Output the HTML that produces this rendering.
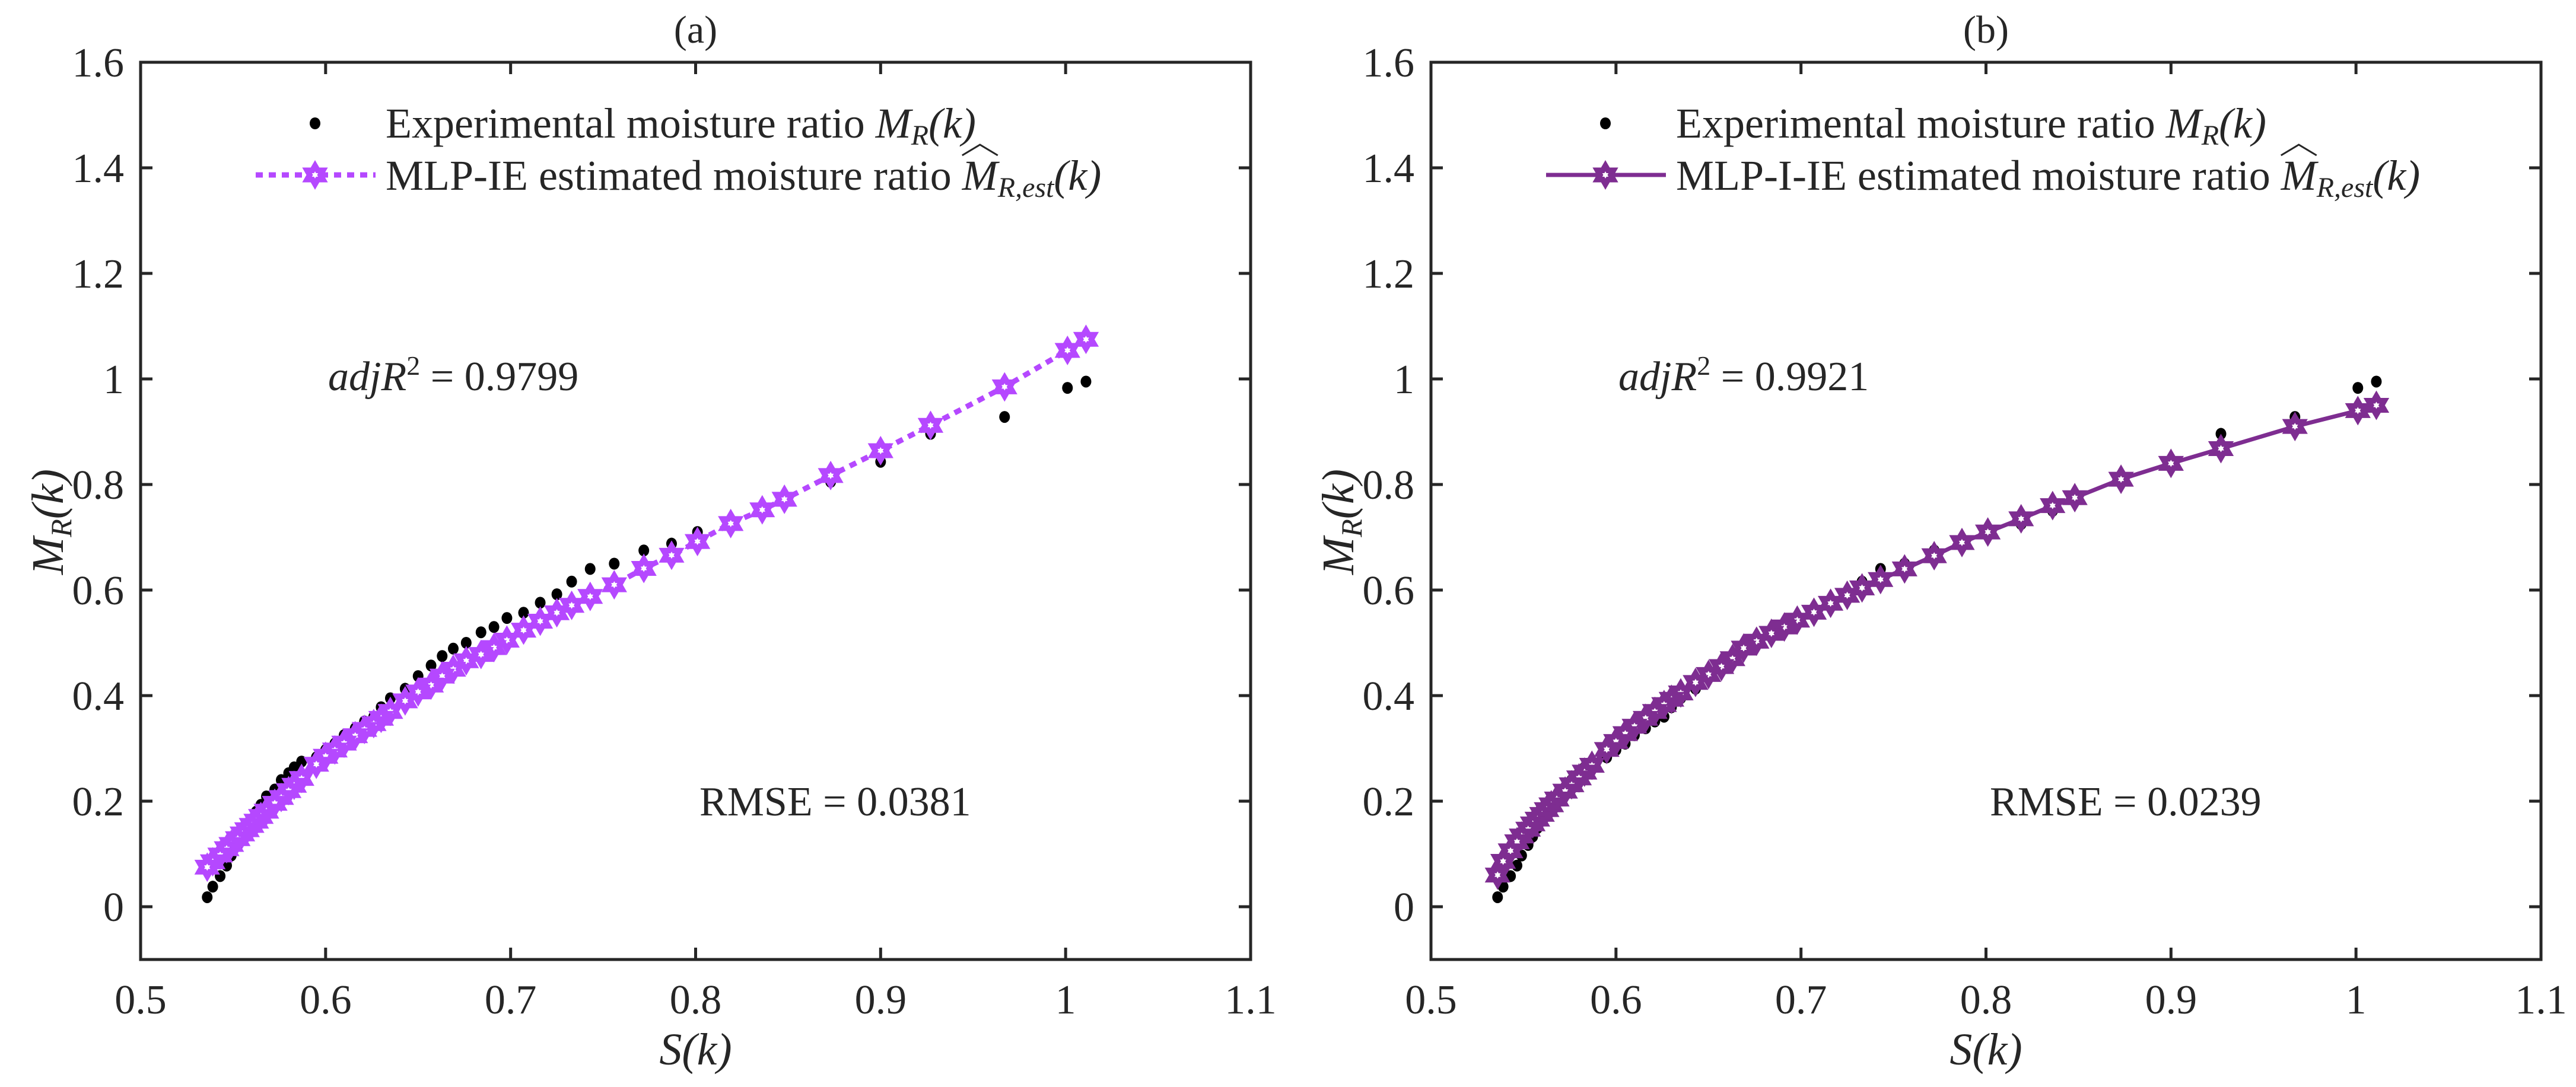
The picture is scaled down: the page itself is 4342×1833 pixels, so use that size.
<!DOCTYPE html>
<html><head><meta charset="utf-8"><style>
html,body{margin:0;padding:0;background:#fff}
svg{display:block}
text{font-family:"Liberation Serif",serif;fill:#262626}
.it{font-style:italic}
</style></head><body>
<svg id="fig" xmlns="http://www.w3.org/2000/svg" width="4342" height="1833" viewBox="0 0 4342 1833">
<rect width="4342" height="1833" fill="#fff"/>
</svg>
<script>
const sVals = [1.011,1.001,0.967,0.927,0.9,0.873,0.848,0.836,0.819,0.801,0.787,0.772,0.756,0.743,0.733,0.725,0.716,0.707,0.698,0.691,0.684,0.676,0.669,0.663,0.657,0.65,0.643,0.635,0.63,0.626,0.621,0.616,0.61,0.605,0.6,0.595,0.587,0.583,0.58,0.576,0.5725,0.568,0.565,0.5625,0.56,0.5575,0.555,0.5525,0.549,0.5465,0.543,0.539,0.536];
const expVals = [0.995,0.983,0.928,0.896,0.843,0.805,0.772,0.75,0.725,0.71,0.688,0.675,0.65,0.64,0.616,0.592,0.576,0.557,0.547,0.53,0.52,0.5,0.489,0.475,0.457,0.437,0.413,0.395,0.378,0.36,0.351,0.338,0.325,0.309,0.297,0.283,0.275,0.264,0.253,0.24,0.222,0.209,0.193,0.18,0.163,0.149,0.133,0.117,0.097,0.078,0.058,0.038,0.018];
const estA = [1.075,1.054,0.985,0.912,0.864,0.817,0.772,0.752,0.726,0.692,0.666,0.641,0.61,0.588,0.571,0.557,0.541,0.524,0.505,0.491,0.478,0.466,0.45,0.437,0.42,0.407,0.39,0.37,0.357,0.347,0.336,0.324,0.31,0.297,0.285,0.27,0.243,0.23,0.22,0.207,0.196,0.181,0.171,0.162,0.154,0.146,0.138,0.129,0.118,0.11,0.098,0.085,0.075];
const estB = [0.95,0.94,0.91,0.868,0.84,0.81,0.775,0.76,0.735,0.71,0.69,0.665,0.64,0.62,0.604,0.59,0.575,0.558,0.543,0.53,0.518,0.503,0.49,0.47,0.455,0.44,0.425,0.405,0.393,0.383,0.37,0.357,0.342,0.328,0.313,0.298,0.268,0.255,0.244,0.231,0.219,0.204,0.193,0.184,0.175,0.166,0.157,0.147,0.134,0.123,0.106,0.086,0.06];
const xTicks = [0.5,0.6,0.7,0.8,0.9,1,1.1];
const yTicks = [0,0.2,0.4,0.6,0.8,1,1.2,1.4,1.6];
const xTickLabels = ["0.5","0.6","0.7","0.8","0.9","1","1.1"];
const yTickLabels = ["0","0.2","0.4","0.6","0.8","1","1.2","1.4","1.6"];

const NS="http://www.w3.org/2000/svg";
const svg=document.getElementById('fig');
function mk(tag,attrs,parent){const e=document.createElementNS(NS,tag);for(const k in attrs)e.setAttribute(k,attrs[k]);(parent||svg).appendChild(e);return e;}
function star(cx,cy,r){let p=[];for(let i=0;i<12;i++){const a=-Math.PI/2+i*Math.PI/6;const rr=i%2?r*0.58:r;p.push((cx+rr*Math.cos(a)).toFixed(1)+','+(cy+rr*Math.sin(a)).toFixed(1));}return p.join(' ');}
function drawStar(g,cx,cy,color){
  const st=mk('polygon',{points:star(cx,cy,21),fill:color,stroke:color,'stroke-width':4,'stroke-linejoin':'miter'},g);
  
  
  mk('polygon',{points:star(cx,cy,6),fill:'#fff'},g);
}

function panel(off,key,est,color,dashed,title,lineLabel,adj,rmse){
  const L=237+off,R=2108+off,T=105,B=1618;
  const X=v=>L+(v-0.5)/0.6*(R-L);
  const Y=v=>B-(v+0.1)/1.7*(B-T);
  const g=mk('g',{});
  
  
  const box=mk('rect',{x:L,y:T,width:R-L,height:B-T,fill:'none',stroke:'#262626','stroke-width':5},g);
  
  
  xTicks.forEach((t,i)=>{const x=X(t);
    mk('line',{x1:x,y1:B,x2:x,y2:B-20,stroke:'#262626','stroke-width':5},g);
    mk('line',{x1:x,y1:T,x2:x,y2:T+20,stroke:'#262626','stroke-width':5},g);
    const tx=mk('text',{x:x,y:1709,'text-anchor':'middle','font-size':70},g);tx.textContent=xTickLabels[i];
    
    
  });
  yTicks.forEach((t,i)=>{const y=Y(t);
    mk('line',{x1:L,y1:y,x2:L+20,y2:y,stroke:'#262626','stroke-width':5},g);
    mk('line',{x1:R,y1:y,x2:R-20,y2:y,stroke:'#262626','stroke-width':5},g);
    const ty=mk('text',{x:L-28,y:y+24,'text-anchor':'end','font-size':70},g);ty.textContent=yTickLabels[i];
    
    
  });
  const tt=mk('text',{x:(L+R)/2,y:72,'text-anchor':'middle','font-size':66},g);tt.textContent=title;
  
  
  const xl=mk('text',{x:(L+R)/2,y:1795,'text-anchor':'middle','font-size':76,class:'it'},g);xl.textContent='S(k)';
  
  
  const yl=mk('text',{x:0,y:0,'text-anchor':'middle','font-size':76,class:'it',transform:`translate(${106+off},880) rotate(-90)`},g);
  yl.innerHTML='M<tspan font-size="50" dy="14">R</tspan><tspan dy="-14">(k)</tspan>';
  
  
  sVals.forEach((s,i)=>{const d=mk('ellipse',{cx:X(s),cy:Y(expVals[i]),rx:9,ry:10,fill:'#000'},g);
    
    });
  const pts=sVals.map((s,i)=>X(s).toFixed(1)+','+Y(est[i]).toFixed(1)).join(' ');
  const pl=mk('polyline',{points:pts,fill:'none',stroke:color,'stroke-width':dashed?9:7,'stroke-dasharray':dashed?'12 10':'none'},g);
  
  
  sVals.forEach((s,i)=>drawStar(g,X(s),Y(est[i]),color));
  const lg=mk('g',{},g);
  
  
  mk('ellipse',{cx:531+off,cy:208,rx:9,ry:10,fill:'#000'},lg);
  const t1=mk('text',{x:650+off,y:232,'font-size':72},lg);
  t1.innerHTML='Experimental moisture ratio <tspan class="it">M</tspan><tspan class="it" font-size="48" dy="12">R</tspan><tspan class="it" dy="-12">(k)</tspan>';
  
  
  mk('line',{x1:431+off,y1:295,x2:633+off,y2:295,stroke:color,'stroke-width':dashed?9:7,'stroke-dasharray':dashed?'12 10':'none'},lg);
  drawStar(lg,531+off,295,color);
  const pre=lineLabel+' estimated moisture ratio ';
  const t2=mk('text',{x:650+off,y:320,'font-size':72},lg);
  t2.innerHTML=pre+'<tspan class="it">M</tspan><tspan class="it" font-size="48" dy="12">R,est</tspan><tspan class="it" dy="-12">(k)</tspan>';
  
  
  let hx=1620+off, hw=60;
  try{const ext=t2.getExtentOfChar(pre.length);hx=ext.x;hw=ext.width;}catch(e){}
  const hat=mk('polyline',{points:`${hx},262 ${hx+hw/2},244 ${hx+hw},262`,fill:'none',stroke:'#262626','stroke-width':3},lg);
  
  
  const a=mk('text',{x:553+off,y:658,'font-size':70},g);
  a.innerHTML='<tspan class="it">adjR</tspan><tspan font-size="46" dy="-26">2</tspan><tspan dy="26"> = '+adj+'</tspan>';
  
  
  const r=mk('text',{x:1179+off,y:1375,'font-size':70},g);r.textContent='RMSE = '+rmse;
  
  
}
panel(0,'a',estA,'#B548FF',true,'(a)','MLP-IE','0.9799','0.0381');
panel(2175,'b',estB,'#7E2D91',false,'(b)','MLP-I-IE','0.9921','0.0239');
</script>
</body></html>
